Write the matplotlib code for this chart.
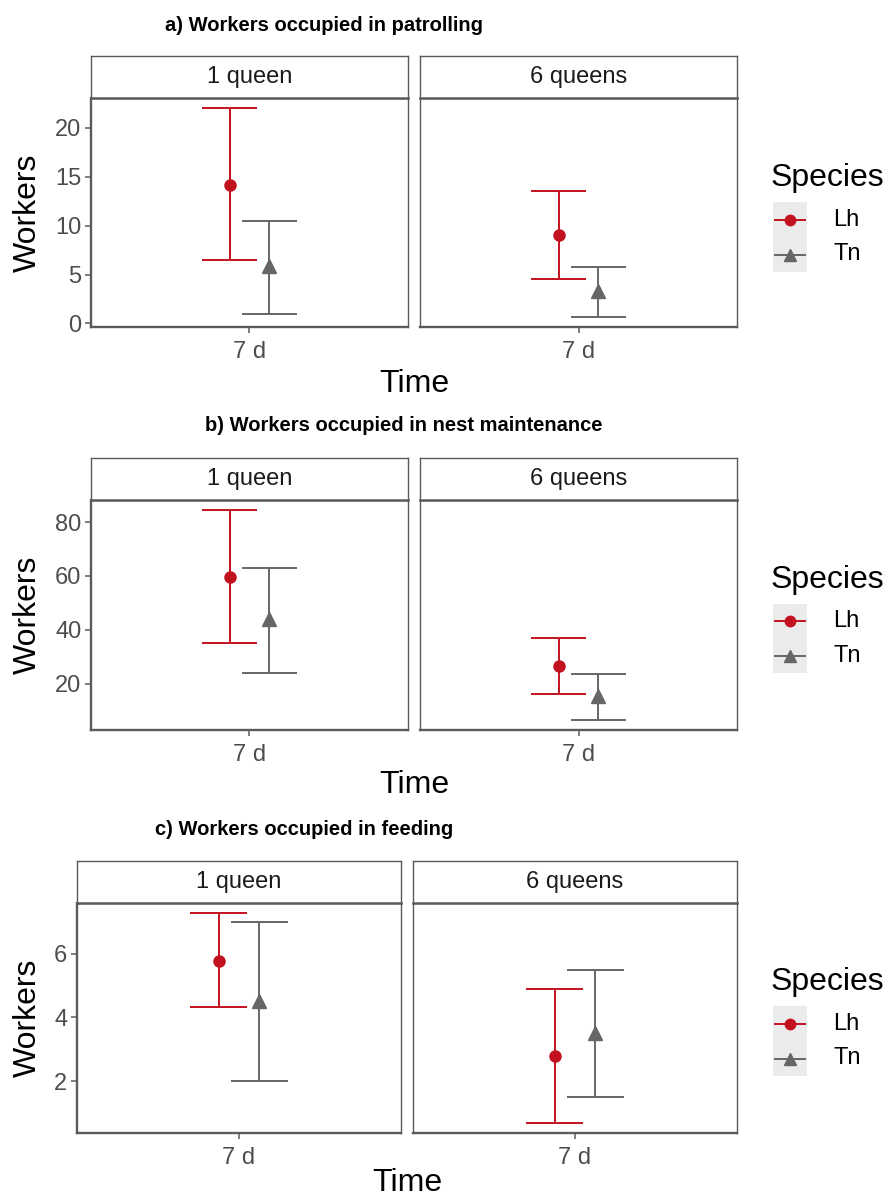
import matplotlib
matplotlib.use('Agg')
import matplotlib.pyplot as plt

plt.rcParams['font.family'] = ['Liberation Sans', 'DejaVu Sans']

# ---------------- data ----------------
facets = ["1 queen", "6 queens"]
species = ["Lh", "Tn"]
time_label = "7 d"

titles = ["a) Workers occupied in patrolling",
          "b) Workers occupied in nest maintenance",
          "c) Workers occupied in feeding"]

# panel a: patrolling
a_mean_lh = [14.2, 9.0]
a_lo_lh = [6.5, 4.5]
a_hi_lh = [22.0, 13.5]
a_mean_tn = [5.9, 3.3]
a_lo_tn = [1.0, 0.7]
a_hi_tn = [10.5, 5.8]

# panel b: nest maintenance
b_mean_lh = [59.6, 26.5]
b_lo_lh = [35.2, 16.3]
b_hi_lh = [84.3, 36.9]
b_mean_tn = [44.0, 15.6]
b_lo_tn = [23.8, 6.7]
b_hi_tn = [62.9, 23.7]

# panel c: feeding
c_mean_lh = [5.78, 2.78]
c_lo_lh = [4.34, 0.70]
c_hi_lh = [7.26, 4.88]
c_mean_tn = [4.52, 3.51]
c_lo_tn = [2.0, 1.5]
c_hi_tn = [6.99, 5.48]

a_yticks = [0, 5, 10, 15, 20]
b_yticks = [20, 40, 60, 80]
c_yticks = [2, 4, 6]

panel_data = [
    dict(lh=(a_mean_lh, a_lo_lh, a_hi_lh), tn=(a_mean_tn, a_lo_tn, a_hi_tn), yticks=a_yticks),
    dict(lh=(b_mean_lh, b_lo_lh, b_hi_lh), tn=(b_mean_tn, b_lo_tn, b_hi_tn), yticks=b_yticks),
    dict(lh=(c_mean_lh, c_lo_lh, c_hi_lh), tn=(c_mean_tn, c_lo_tn, c_hi_tn), yticks=c_yticks),
]

# ---------------- layout (pixels) ----------------
W, H = 889, 1199
def fx(x):
    return x / W
def fy(y):
    return 1 - y / H

layout = [
    dict(title_x=165, title_y=31, strip_top=56, strip_bot=98, pan_bot=327,
         facets=[(91, 408), (420, 737)], time_y=392, sp_y=186, key_top=202, key_bot=272),
    dict(title_x=205, title_y=431, strip_top=458, strip_bot=500, pan_bot=730,
         facets=[(91, 408), (420, 737)], time_y=793, sp_y=588, key_top=604, key_bot=673),
    dict(title_x=155, title_y=835, strip_top=861, strip_bot=903, pan_bot=1133,
         facets=[(77, 401), (413, 737)], time_y=1191, sp_y=990, key_top=1006, key_bot=1076),
]

RED = '#C3121F'
GREY = '#666666'
BORDER = '#5A5A5A'
TICKC = '#4D4D4D'

styles = {"Lh": dict(color=RED, marker='o', ms=8, off=-0.075),
          "Tn": dict(color=GREY, marker='^', ms=9.5, off=0.075)}
CAP = 0.105
LW = 1.4

fig = plt.figure(figsize=(W / 100, H / 100), dpi=100)

for p, (L, D) in enumerate(zip(layout, panel_data)):
    allv = D['lh'][1] + D['lh'][2] + D['tn'][1] + D['tn'][2]
    vmin, vmax = min(allv), max(allv)
    pad = 0.05 * (vmax - vmin)
    ylim = (vmin - pad, vmax + pad)

    for j, fac in enumerate(facets):
        x0, x1 = L['facets'][j]
        ax = fig.add_axes([fx(x0), fy(L['pan_bot']), (x1 - x0) / W,
                           (L['pan_bot'] - L['strip_bot']) / H])
        for sp in species:
            st = styles[sp]
            mean, lo, hi = D['lh'] if sp == 'Lh' else D['tn']
            xp = 1 + st['off']
            ax.vlines(xp, lo[j], hi[j], color=st['color'], lw=LW)
            ax.hlines([lo[j], hi[j]], xp - CAP, xp + CAP, color=st['color'], lw=LW)
            ax.plot([xp], [mean[j]], marker=st['marker'], color=st['color'],
                    ms=st['ms'], ls='none')
        ax.set_xlim(0.4, 1.6)
        ax.set_xticks([1])
        ax.set_xticklabels([time_label])
        ax.set_ylim(*ylim)
        ax.set_yticks(D['yticks'])
        ax.tick_params(axis='both', colors=BORDER, labelcolor=TICKC, labelsize=17,
                       length=4, width=1.1)
        ax.tick_params(axis='x', pad=6)
        ax.tick_params(axis='y', pad=3)
        if j > 0:
            ax.tick_params(axis='y', left=False, labelleft=False)
        for s in ax.spines.values():
            s.set_color(BORDER)
            s.set_linewidth(1.0)
        ax.spines['bottom'].set_linewidth(1.7)
        if j == 0:
            ax.spines['left'].set_linewidth(1.7)

        sax = fig.add_axes([fx(x0), fy(L['strip_bot']), (x1 - x0) / W,
                            (L['strip_bot'] - L['strip_top']) / H])
        sax.set_xticks([])
        sax.set_yticks([])
        for s in sax.spines.values():
            s.set_color(BORDER)
            s.set_linewidth(1.0)
        sax.spines['bottom'].set_linewidth(1.8)
        sax.text(0.5, 0.5, fac, ha='center', va='center', fontsize=17,
                 color='#1A1A1A', transform=sax.transAxes)

    # titles
    fig.text(fx(L['title_x']), fy(L['title_y']), titles[p], fontsize=14.5,
             fontweight='bold', va='baseline', ha='left', color='black')
    xl = L['facets'][0][0]
    xr = L['facets'][1][1]
    fig.text(fx((xl + xr) / 2), fy(L['time_y']), "Time", fontsize=23,
             ha='center', va='baseline', color='black')
    fig.text(fx(28), fy((L['strip_bot'] + L['pan_bot']) / 2), "Workers", fontsize=23,
             rotation=90, ha='center', va='center', color='black')

    # legend
    fig.text(fx(771), fy(L['sp_y']), "Species", fontsize=23, ha='left',
             va='baseline', color='black')
    kx0, kx1 = 773, 807
    kax = fig.add_axes([fx(kx0), fy(L['key_bot']), (kx1 - kx0) / W,
                        (L['key_bot'] - L['key_top']) / H])
    kax.set_facecolor('#EBEBEB')
    for s in kax.spines.values():
        s.set_visible(False)
    kax.set_xticks([])
    kax.set_yticks([])
    kax.set_xlim(0, 1)
    kax.set_ylim(0, 2)
    row_h = (L['key_bot'] - L['key_top']) / 2
    for r, sp in enumerate(species):
        st = styles[sp]
        yk = 1.5 - r
        kax.plot([0.05, 0.95], [yk, yk], color=st['color'], lw=LW)
        kax.plot([0.5], [yk], marker=st['marker'], color=st['color'],
                 ms=st['ms'] - 0.5, ls='none')
        fig.text(fx(833), fy(L['key_top'] + row_h * (r + 0.5)), sp, fontsize=17,
                 ha='left', va='center', color='black')

fig.savefig('out.png', dpi=100, facecolor='white')
